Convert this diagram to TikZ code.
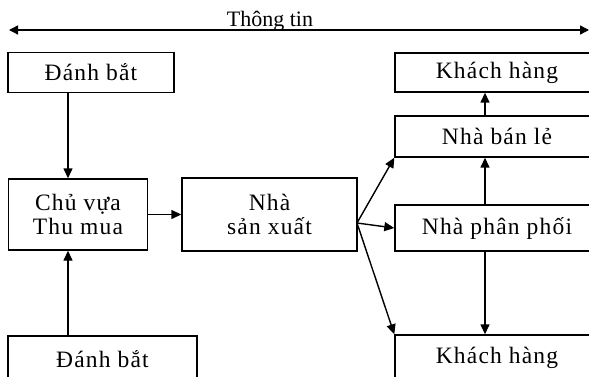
\documentclass[tikz,border=0pt]{standalone}
\usepackage{fontspec}
\setmainfont{Liberation Serif}
\newfontfamily\boxfont[LetterSpace=5]{Liberation Serif}
\usetikzlibrary{arrows.meta}
\begin{document}
\begin{tikzpicture}[x=1pt,y=-1pt,
  box/.style={draw,line width=1.4pt,inner sep=0pt,align=center,font=\boxfont\fontsize{23.5}{24}\selectfont},
  arr/.style={line width=1.4pt,-{Triangle[length=10pt,width=9pt]}},
  lbl/.style={font=\fontsize{22}{23}\selectfont,inner sep=0pt}]
\useasboundingbox (0,0) rectangle (589,377);
\clip (0,0) rectangle (589,377);
% information arrow
\coordinate (tl) at (9,30);
\coordinate (tr) at (589,30);
\draw[line width=1.4pt,{Triangle[length=9pt,width=9pt]}-{Triangle[length=9pt,width=9pt]}] (tl) -- (tr);
\node[lbl,anchor=base] (tt) at (270,27) {Thông tin};
% left column
\node[box,minimum width=166,minimum height=40] (db1) at (91,72.5) {Đánh bắt};
\node[box,minimum width=139,minimum height=71] (cv) at (78,214.5) {Chủ vựa\\Thu mua};
\node[box,minimum width=189,minimum height=46] (db2) at (102.5,359) {Đánh bắt};
% producer
\node[box,minimum width=175,minimum height=73] (sx) at (269.5,214.5) {Nhà\\sản xuất};
% right column
\node[box,minimum width=204,minimum height=39] (kh1) at (497,72.5) {Khách hàng};
\node[box,minimum width=204,minimum height=41] (bl) at (497,136.5) {Nhà bán lẻ};
\node[box,minimum width=204,minimum height=46] (pp) at (497,228) {Nhà phân phối};
\node[box,minimum width=204,minimum height=46] (kh2) at (497,358) {Khách hàng};
% connectors
\draw[arr] (db1.south -| 68,0) -- (cv.north -| 68,0);
\draw[arr] (db2.north -| 68,0) -- (cv.south -| 68,0);
\draw[arr] (cv.east) -- (sx.west);
\coordinate (o) at (357,223);
\draw[arr] (o) -- (bl.south west);
\draw[arr] (o) -- (pp.west);
\draw[arr] (o) -- (kh2.north west);
\draw[arr] (bl.north -| 485,0) -- (kh1.south -| 485,0);
\draw[arr] (pp.north -| 485,0) -- (bl.south -| 485,0);
\draw[arr] (pp.south -| 485,0) -- (kh2.north -| 485,0);
\end{tikzpicture}
\end{document}
